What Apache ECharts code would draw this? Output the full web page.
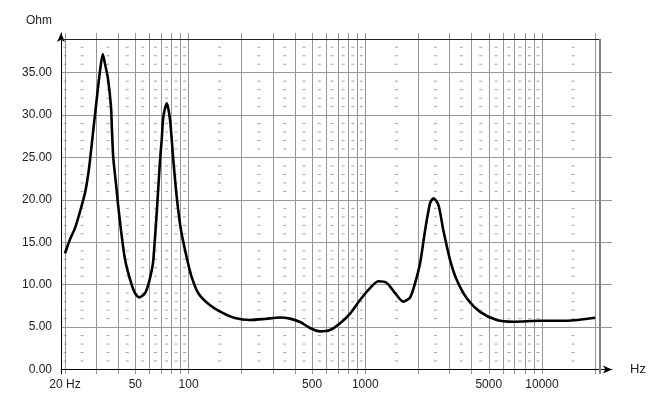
<!DOCTYPE html>
<html>
<head>
<meta charset="utf-8">
<script src="https://cdn.jsdelivr.net/npm/echarts@6/dist/echarts.min.js"></script>
<style>html,body{margin:0;padding:0;background:#fff}#chart{width:650px;height:400px}</style>
</head>
<body>
<div id="chart"></div>
<script>
// Impedance curve (frequency in Hz, impedance in Ohm)
const freqs = [20, 21.3, 22.8, 24.3, 26.0, 27.0, 27.7, 28.9, 30.2, 31.6, 32.7, 33.7, 35.0, 36.4, 36.9, 37.5, 38.9, 39.9, 41.5, 43.7, 46.7, 49.8, 52.7, 56.7, 59.2, 61.9, 63.2, 66.3, 69.0, 70.5, 72.0, 75.3, 78.6, 82.0, 86.1, 90.7, 98.4, 104.2, 113.6, 132, 155, 183, 223, 271, 329, 375, 428, 487, 555, 632, 720, 820, 934, 1064, 1186, 1323, 1475, 1640, 1793, 1890, 2042, 2180, 2326, 2430, 2593, 2767, 3020, 3296, 3754, 4465, 5549, 6890, 9756, 13816, 20000];
const ohms  = [13.7, 15.3, 16.7, 18.6, 20.9, 22.9, 24.7, 28.2, 31.8, 35.3, 37.2, 36.0, 34.3, 31.0, 28.0, 25.0, 21.8, 19.5, 16.4, 13.0, 10.6, 9.0, 8.5, 9.0, 10.0, 11.7, 12.9, 19.0, 24.7, 27.1, 29.8, 31.4, 29.4, 24.7, 20.0, 16.4, 12.9, 10.9, 9.0, 7.6, 6.7, 6.07, 5.84, 5.96, 6.13, 6.0, 5.6, 4.9, 4.5, 4.66, 5.45, 6.6, 8.2, 9.6, 10.4, 10.2, 9.0, 8.0, 8.5, 9.8, 12.5, 16.4, 19.6, 20.2, 19.4, 16.4, 12.9, 10.55, 8.4, 6.8, 5.84, 5.64, 5.75, 5.75, 6.1];

// Axis ticks / labels
const xGridValues = [20, 30, 40, 50, 60, 70, 80, 90, 100, 200, 300, 400, 500, 600, 700, 800, 900, 1000, 2000, 3000, 4000, 5000, 6000, 7000, 8000, 9000, 10000, 20000];
const xLabelValues = [20, 50, 100, 500, 1000, 5000, 10000];
const yGridValues = [0, 5, 10, 15, 20, 25, 30, 35];
// minor dash grid
const dashFreqs = [20, 25, 35, 45, 55, 65, 75, 85, 95, 150, 250, 350, 450, 550, 650, 750, 850, 950, 1500, 2500, 3500, 4500, 5500, 6500, 7500, 8500, 9500, 15000];
const dashLevels = [1, 2, 3, 4, 6, 7, 8, 9, 11, 12, 13, 14, 16, 17, 18, 19, 21, 22, 23, 24, 26, 27, 28, 29, 31, 32, 33, 34, 36, 37, 38];

// axis extents and frame
const X_MIN = 18.98, X_MAX = 24900, X_FRAME = 21290;
const Y_MIN = -0.53, Y_MAX = 39.68, Y_FRAME = 39;

const curve = freqs.map((f, i) => [f, ohms[i]]);
const dashes = [];
dashFreqs.forEach(f => dashLevels.forEach(l => dashes.push([f, l])));

const FONT = 'Liberation Sans, Arial, sans-serif';
const chart = echarts.init(document.getElementById('chart'));
chart.setOption({
  animation: false,
  backgroundColor: '#fff',
  grid: { left: 61, right: 38, top: 33, bottom: 26, containLabel: false },
  xAxis: {
    type: 'log', logBase: 10, min: X_MIN, max: X_MAX,
    name: 'Hz', nameLocation: 'end', nameGap: 18,
    nameTextStyle: { fontFamily: FONT, fontSize: 13, color: '#222' },
    axisLine: { show: true, lineStyle: { color: '#000', width: 1 }, symbol: ['none', 'arrow'], symbolSize: [6, 9] },
    axisTick: { show: false, customValues: xGridValues },
    axisLabel: {
      customValues: xLabelValues, margin: 5, fontFamily: FONT, fontSize: 12, color: '#222',
      formatter: v => (Math.round(v) === 20 ? '20 Hz' : String(Math.round(v)))
    },
    splitLine: { show: true, lineStyle: { color: '#969696', width: 1 } },
    minorSplitLine: { show: false }
  },
  yAxis: {
    type: 'value', min: Y_MIN, max: Y_MAX,
    name: 'Ohm', nameLocation: 'end', nameGap: 6,
    nameTextStyle: { fontFamily: FONT, fontSize: 12, color: '#222', align: 'right', padding: [0, 9, 0, 0] },
    axisLine: { show: true, lineStyle: { color: '#000', width: 1 }, symbol: ['none', 'arrow'], symbolSize: [6, 9] },
    axisTick: { show: false, customValues: yGridValues },
    axisLabel: {
      customValues: yGridValues, margin: 9, fontFamily: FONT, fontSize: 12, color: '#222',
      formatter: v => v.toFixed(2)
    },
    splitLine: { show: true, lineStyle: { color: '#969696', width: 1 } }
  },
  series: [
    {
      type: 'scatter', data: dashes, symbol: 'rect', symbolSize: [3, 1],
      itemStyle: { color: '#8a8a8a' }, silent: true, z: 1,
      markLine: {
        silent: true, symbol: 'none', label: { show: false },
        data: [
          [{ coord: [X_MIN, Y_FRAME] }, { coord: [X_FRAME, Y_FRAME] }]
        ],
        lineStyle: { color: '#222', width: 1, type: 'solid' }
      }
    },
    {
      type: 'line', data: curve, smooth: 0.25, showSymbol: false, z: 5,
      lineStyle: { color: '#000', width: 2.6 },
      markLine: {
        silent: true, symbol: 'none', label: { show: false },
        data: [
          [{ coord: [X_FRAME, Y_MIN] }, { coord: [X_FRAME, Y_FRAME] }]
        ],
        lineStyle: { color: '#808080', width: 2, type: 'solid' }
      }
    }
  ]
});
</script>
</body>
</html>
